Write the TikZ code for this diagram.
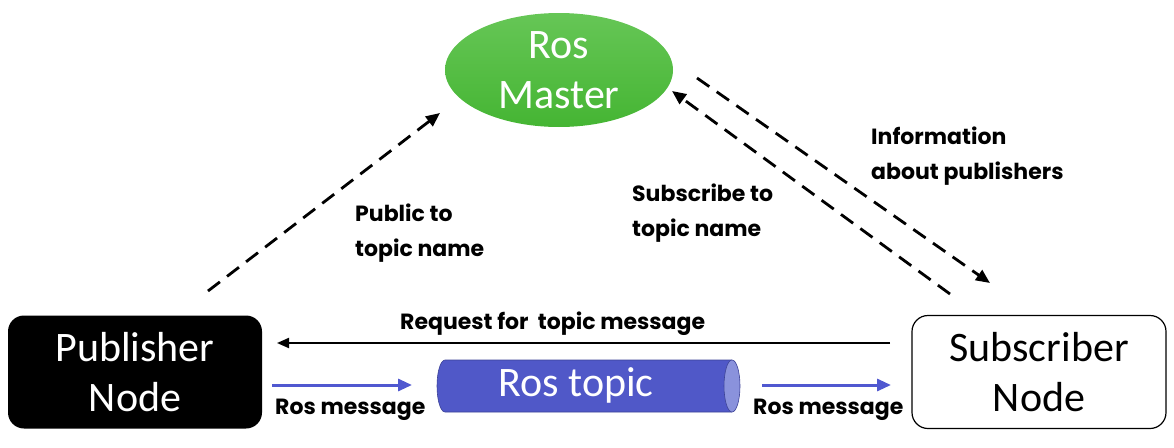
\documentclass[tikz,border=0pt]{standalone}
\usepackage{fontspec}
\setmainfont{Carlito}
\newfontfamily\lblfont{Poppins}
\usetikzlibrary{arrows.meta,shapes.geometric}
\definecolor{mastergreen}{HTML}{45B533}
\definecolor{mastertop}{HTML}{66C656}
\definecolor{topicblue}{HTML}{5058C8}
\definecolor{topicend}{HTML}{8A92DC}
\definecolor{arrowblue}{HTML}{5058D0}
\tikzset{
  bigtxt/.style={font=\fontsize{42}{50}\selectfont, align=center},
  lbl/.style={font=\lblfont\bfseries\fontsize{22}{35}\selectfont, align=left, inner sep=0pt},
  dasharrow/.style={line width=2.8pt, dash pattern=on 15pt off 9pt, -{Triangle[length=14pt,width=12pt]}},
  bluearrow/.style={arrowblue, line width=3pt, -{Triangle[length=14pt,width=12pt]}},
  blackarrow/.style={black, line width=2pt, -{Triangle[length=12pt,width=10pt]}},
  nodebox/.style={rounded corners=16pt, minimum width=254pt, minimum height=113pt, bigtxt}
}
\begin{document}
\begin{tikzpicture}[x=1pt,y=-1pt]
\useasboundingbox (0,0) rectangle (1174,447);
% nodes
\node[ellipse, top color=mastertop, bottom color=mastergreen, minimum width=228pt, minimum height=114pt, text=white, bigtxt, inner sep=0pt] (master) at (559,70) {Ros\\Master};
\node[nodebox, fill=black, text=white] (pub) at (135,372) {Publisher\\Node};
\node[nodebox, draw=black, line width=1.2pt, fill=white, text=black] (sub) at (1039,372) {Subscriber\\Node};
% Ros topic cylinder
\fill[topicblue] (445,360) rectangle (732,412);
\filldraw[fill=topicblue, draw=topicblue!75!black, line width=0.6pt] (732,360) -- (445,360) arc[start angle=270, end angle=90, x radius=8, y radius=26] -- (732,412);
\filldraw[fill=topicend, draw=topicblue!75!black, line width=0.6pt] (732,386) ellipse [x radius=8, y radius=26];
\node[text=white, font=\fontsize{42}{50}\selectfont, inner sep=0pt] (topic) at (576,385) {Ros topic};
% coordinates for free ends
\coordinate (pubtail) at (208,291);
\coordinate (pubhead) at (440,113);
\coordinate (subtail) at (950,294);
\coordinate (subhead) at (672,91);
\coordinate (infotail) at (697,78);
\coordinate (infohead) at (990,283);
\coordinate (reqtail) at (890,343);
\coordinate (reqhead) at (277,343);
\coordinate (b1t) at (272,385);
\coordinate (b1h) at (412,385);
\coordinate (b2t) at (762,385);
\coordinate (b2h) at (891,385);
% connectors
\draw[dasharrow] (pubtail) -- (pubhead);
\draw[dasharrow] (subtail) -- (subhead);
\draw[dasharrow] (infotail) -- (infohead);
\draw[blackarrow] (reqtail) -- (reqhead);
\draw[bluearrow] (b1t) -- (b1h);
\draw[bluearrow] (b2t) -- (b2h);
% labels
\node[lbl, anchor=west] (lpub) at (355,233) {Public to\\topic name};
\node[lbl, anchor=west] (lsub) at (632,213) {Subscribe to\\topic name};
\node[lbl, anchor=west] (linfo) at (871,156) {Information\\about publishers};
\node[lbl, anchor=west] (lreq) at (400,324) {Request for\ \ topic message};
\node[lbl, anchor=west] (lm1) at (275,410) {Ros message};
\node[lbl, anchor=west] (lm2) at (753,410) {Ros message};
\end{tikzpicture}
\end{document}
